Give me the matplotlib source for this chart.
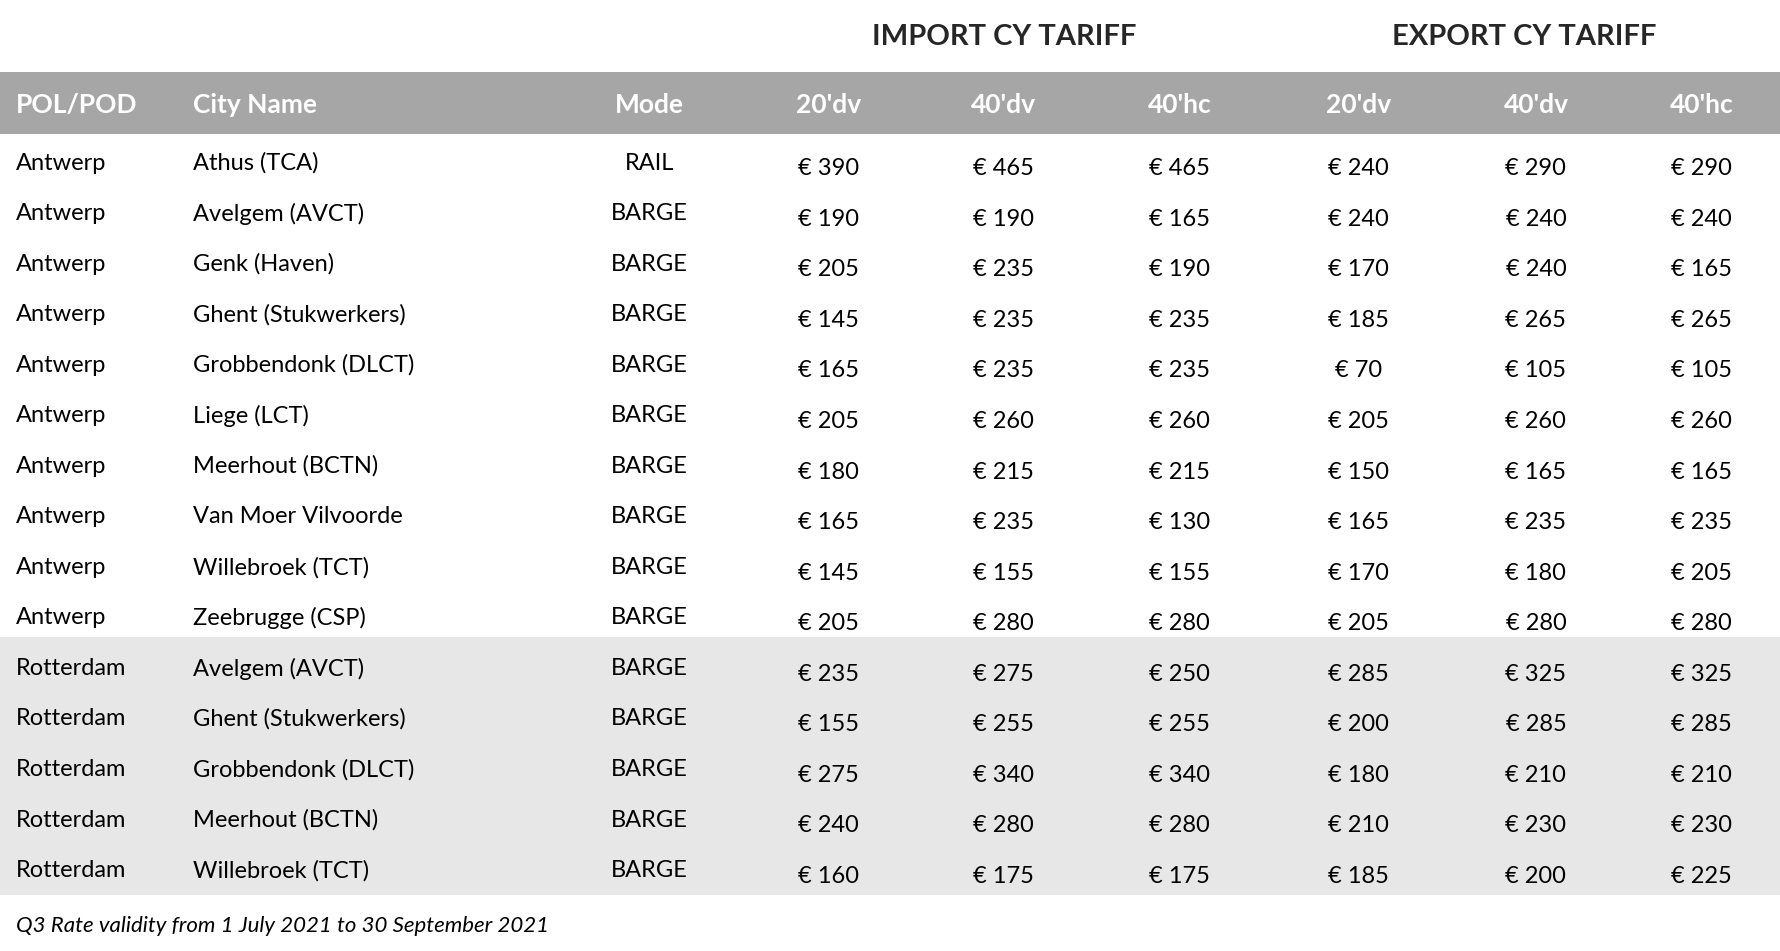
import matplotlib

matplotlib.use("Agg")
import matplotlib.pyplot as plt  # noqa: E402
from matplotlib.patches import Rectangle  # noqa: E402

# table data
pol = ["Antwerp"] * 10 + ["Rotterdam"] * 5
city = [
    "Athus (TCA)", "Avelgem (AVCT)", "Genk (Haven)", "Ghent (Stukwerkers)",
    "Grobbendonk (DLCT)", "Liege (LCT)", "Meerhout (BCTN)", "Van Moer Vilvoorde",
    "Willebroek (TCT)", "Zeebrugge (CSP)",
    "Avelgem (AVCT)", "Ghent (Stukwerkers)", "Grobbendonk (DLCT)",
    "Meerhout (BCTN)", "Willebroek (TCT)",
]
mode = ["RAIL"] + ["BARGE"] * 14
imp_20dv = [390, 190, 205, 145, 165, 205, 180, 165, 145, 205, 235, 155, 275, 240, 160]
imp_40dv = [465, 190, 235, 235, 235, 260, 215, 235, 155, 280, 275, 255, 340, 280, 175]
imp_40hc = [465, 165, 190, 235, 235, 260, 215, 130, 155, 280, 250, 255, 340, 280, 175]
exp_20dv = [240, 240, 170, 185, 70, 205, 150, 165, 170, 205, 285, 200, 180, 210, 185]
exp_40dv = [290, 240, 240, 265, 105, 260, 165, 235, 180, 280, 325, 285, 210, 230, 200]
exp_40hc = [290, 240, 165, 265, 105, 260, 165, 235, 205, 280, 325, 285, 210, 230, 225]

headers = ["POL/POD", "City Name", "Mode", "20'dv", "40'dv", "40'hc", "20'dv", "40'dv", "40'hc"]
group_titles = ["IMPORT CY TARIFF", "EXPORT CY TARIFF"]
footnote = "Q3 Rate validity from 1 July 2021 to 30 September 2021"

W, H = 1568.0, 828.0  # reference layout units
FONT = "Lato"

fig = plt.figure(figsize=(17.8, 9.51), dpi=100)
ax = fig.add_axes([0, 0, 1, 1])
ax.set_xlim(0, W)
ax.set_ylim(H, 0)
ax.axis("off")

# backgrounds
ax.add_patch(Rectangle((0, 63), W, 54, color="#a6a6a6", lw=0))
row_h = 44
top = 121
n_ant = pol.count("Antwerp")
ax.add_patch(Rectangle((0, top + n_ant * row_h - 6), W, (len(pol) - n_ant) * row_h + 4,
                       color="#e7e7e7", lw=0))

ax.text(885, 32, group_titles[0], ha="center", va="center", fontsize=21,
        fontweight="bold", color="#262626", family=FONT)
ax.text(1343, 32, group_titles[1], ha="center", va="center", fontsize=21,
        fontweight="bold", color="#262626", family=FONT)

col_x = [14, 170, 572, 730, 884, 1039, 1197, 1353, 1499]
col_ha = ["left", "left", "center"] + ["center"] * 6
for x, ha, h in zip(col_x, col_ha, headers):
    ax.text(x, 91, h, ha=ha, va="center", fontsize=19, fontweight="bold",
            color="white", family=FONT)

prices = [imp_20dv, imp_40dv, imp_40hc, exp_20dv, exp_40dv, exp_40hc]
for i in range(len(pol)):
    y = top + 21 + i * row_h
    ax.text(col_x[0], y, pol[i], ha="left", va="center", fontsize=17, family=FONT)
    ax.text(col_x[1], y, city[i], ha="left", va="center", fontsize=17, family=FONT)
    ax.text(col_x[2], y, mode[i], ha="center", va="center", fontsize=17, family=FONT)
    for j, series in enumerate(prices):
        ax.text(col_x[3 + j], y + 5, f"€ {series[i]}", ha="center", va="center",
                fontsize=17, family=FONT)

ax.text(14, 806, footnote, ha="left", va="center", fontsize=16, style="italic",
        family=FONT)

fig.savefig("out.png", dpi=100)
